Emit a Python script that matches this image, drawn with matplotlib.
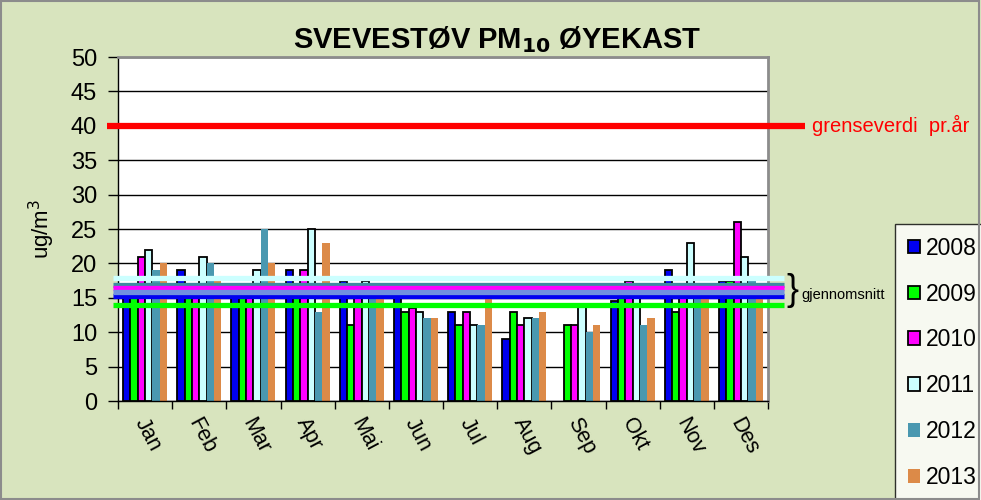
import numpy as np
import matplotlib
matplotlib.use("Agg")
import matplotlib.pyplot as plt
from matplotlib.patches import Rectangle
from matplotlib.transforms import blended_transform_factory, ScaledTranslation

plt.rcParams['font.family'] = ['Liberation Sans', 'DejaVu Sans']

months = ['Jan', 'Feb', 'Mar', 'Apr', 'Mai', 'Jun', 'Jul', 'Aug', 'Sep', 'Okt', 'Nov', 'Des']
years = ['2008', '2009', '2010', '2011', '2012', '2013']
v2008 = [17, 19, 17, 19, 17.5, 15, 13, 9, np.nan, 14.5, 19, 17.5]
v2009 = [17, 17, 17, 17, 11, 13, 11, 13, 11, 17, 13, 17.5]
v2010 = [21, 17, 17, 19, 16, 13.5, 13, 11, 11, 17.5, 16, 26]
v2011 = [22, 21, 19, 25, 17.5, 13, 11, 12, 14, 17, 23, 21]
v2012 = [19, 20, 25, 13, 17, 12, 11, 12, 10, 11, 16, 17.5]
v2013 = [20, 17.5, 20, 23, 15, 12, 15, 13, 11, 12, 15, 15]
series = [v2008, v2009, v2010, v2011, v2012, v2013]

bar_colors = ['#0000F0', '#00FF00', '#FF00FF', '#CCFFFF', '#4A98B0', '#DC8A48']
bar_edges = ['black', 'black', 'black', 'black', 'none', 'none']

# averages (gjennomsnitt)
avg_values = [17.95, 16.9, 16.4, 15.2, 15.8, 13.9]
avg_colors = ['#CCFFFF', '#3C8CA0', '#FF00FF', '#0000F0', '#7090E0', '#00FF00']

limit_value = 40
limit_label = 'grenseverdi  pr.år'

bg = '#D8E4BE'
fig = plt.figure(figsize=(9.81, 5.0), dpi=100, facecolor=bg)
ax = fig.add_axes([118/981, 1-401/500, (768-118)/981, (401-57)/500])
ax.set_facecolor('white')

n = len(years)
x = np.arange(len(months))
bw = 0.135
for k, (vals, c, ec) in enumerate(zip(series, bar_colors, bar_edges)):
    off = (k - (n-1)/2) * bw
    ax.bar(x + off, vals, bw, color=c, edgecolor=ec, linewidth=1.3 if ec != 'none' else 0,
           label=years[k], zorder=2)

ax.set_xlim(-0.5, len(months) - 0.5)
ax.set_ylim(0, 50)
ax.set_yticks(np.arange(0, 51, 5))
ax.yaxis.grid(True, color='black', linewidth=1.0, zorder=0)
ax.set_axisbelow(True)
ax.tick_params(axis='y', direction='out', length=7, width=1, labelsize=17, pad=8)
ax.set_xticks(x)
ax.set_xticklabels(months, rotation=-62, ha='left', va='center', rotation_mode='anchor', fontsize=15.5)
ax.tick_params(axis='x', which='major', length=0, pad=13)
shift = ScaledTranslation(-6/100, 0, fig.dpi_scale_trans)
for lbl in ax.get_xticklabels():
    lbl.set_transform(lbl.get_transform() + shift)
ax.set_xticks(np.arange(-0.5, len(months), 1), minor=True)
ax.tick_params(axis='x', which='minor', direction='out', length=6, width=1)
for s in ['left', 'bottom']:
    ax.spines[s].set_color('black')
    ax.spines[s].set_linewidth(1.0)
for s in ['top', 'right']:
    ax.spines[s].set_color('#8C8C8C')
    ax.spines[s].set_linewidth(2.0)
ax.set_ylabel('ug/m$^3$', fontsize=16, labelpad=10)

trans = blended_transform_factory(ax.transAxes, ax.transData)
# limit line
ax.plot([-11/650, 687/650], [limit_value, limit_value], color='#FF0000', linewidth=4.5,
        transform=trans, clip_on=False, zorder=5, solid_capstyle='butt')
ax.text(694/650, limit_value, limit_label, transform=trans, color='#FF0000', fontsize=14.5,
        va='center', ha='left')

# average lines
for val, c in zip(avg_values, avg_colors):
    ax.plot([-5/650, 666/650], [val, val], color=c, linewidth=3.8, transform=trans,
            clip_on=False, zorder=6, solid_capstyle='butt')
ax.text(668/650, 16.0, '}', transform=trans, fontsize=26, va='center', ha='left', color='black')
ax.text(683/650, 15.4, 'gjennomsnitt', transform=trans, fontsize=10.5, va='center', ha='left')

leg = ax.legend(loc='upper left', bbox_to_anchor=(895/981, 1-224/500), bbox_transform=fig.transFigure,
                fontsize=16.5, frameon=True, fancybox=False, edgecolor='#000000', borderpad=0.55,
                labelspacing=1.0, handlelength=0.55, handleheight=0.55, handletextpad=0.25,
                borderaxespad=0)
leg.get_frame().set_linewidth(1.0)

fig.text(497/981, 1-40/500, 'SVEVESTØV PM$_{\\mathbf{10}}$ ØYEKAST', ha='center', va='center',
         fontsize=21, fontweight='bold')

fig.patches.append(Rectangle((0.001, 0.002), 0.997, 0.996, transform=fig.transFigure, fill=False,
                             edgecolor='#8C8C8C', linewidth=1.5))

fig.savefig('out.png', dpi=100, facecolor=bg)
